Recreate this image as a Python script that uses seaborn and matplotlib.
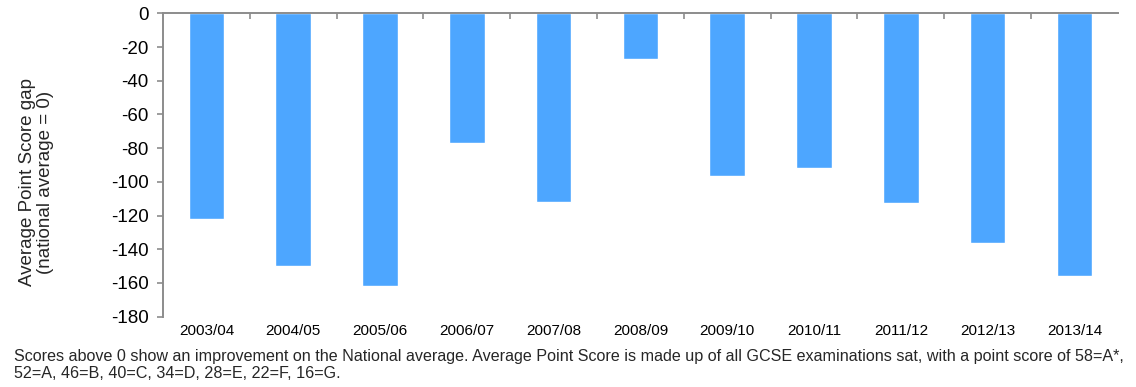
import matplotlib
matplotlib.use("Agg")
import matplotlib.pyplot as plt
import seaborn as sns
import pandas as pd

years = ["2003/04", "2004/05", "2005/06", "2006/07", "2007/08", "2008/09",
         "2009/10", "2010/11", "2011/12", "2012/13", "2013/14"]
gap = [-122, -150, -162, -77, -112, -27, -96.5, -92, -112.5, -136, -156]
y_ticks = [0, -20, -40, -60, -80, -100, -120, -140, -160, -180]

df = pd.DataFrame({"year": years, "gap": gap})

sns.set_theme(style="white")
plt.rcParams["font.family"] = ["Liberation Sans", "DejaVu Sans"]

fig = plt.figure(figsize=(11.36, 3.87), dpi=100)
ax = fig.add_axes([0.1435, 0.1817, 0.8405, 0.7839])

sns.barplot(data=df, x="year", y="gap", color="#4da6ff", width=0.41,
            saturation=1, ax=ax)

ax.set_ylim(-180, 0)
ax.set_yticks(y_ticks)
ax.set_yticklabels([str(v) for v in y_ticks], fontsize=13.5, color="black")
ax.set_xlim(-0.5, len(years) - 0.5)
ax.tick_params(axis="x", length=0, labelsize=11, pad=5, colors="black")
ax.tick_params(axis="y", length=4.5, width=1.2, color="#8c8c8c", pad=6,
               direction="out", left=True)
ax.set_xlabel("")
ax.set_ylabel("")

for side in ("right", "bottom"):
    ax.spines[side].set_visible(False)
for side in ("left", "top"):
    ax.spines[side].set_visible(True)
    ax.spines[side].set_color("#8c8c8c")
    ax.spines[side].set_linewidth(1.4)

# category boundary ticks along the zero line
top = ax.secondary_xaxis("top")
top.set_xticks([i + 0.5 for i in range(len(years) - 1)])
top.set_xticklabels([])
top.tick_params(axis="x", direction="in", length=4, width=1.2, color="#8c8c8c")
top.spines["top"].set_visible(False)

fig.text(0.032, 1 - 182 / 387, "Average Point Score gap\n(national average = 0)",
         rotation=90, ha="center", va="center", fontsize=13.5,
         linespacing=1.1)

fig.text(0.012, 1 - 365 / 387,
         "Scores above 0 show an improvement on the National average. Average Point Score is made up of all GCSE examinations sat, with a point score of 58=A*,\n"
         "52=A, 46=B, 40=C, 34=D, 28=E, 22=F, 16=G.",
         ha="left", va="center", fontsize=11.6, linespacing=1.25)

fig.savefig("out.png", dpi=100)
